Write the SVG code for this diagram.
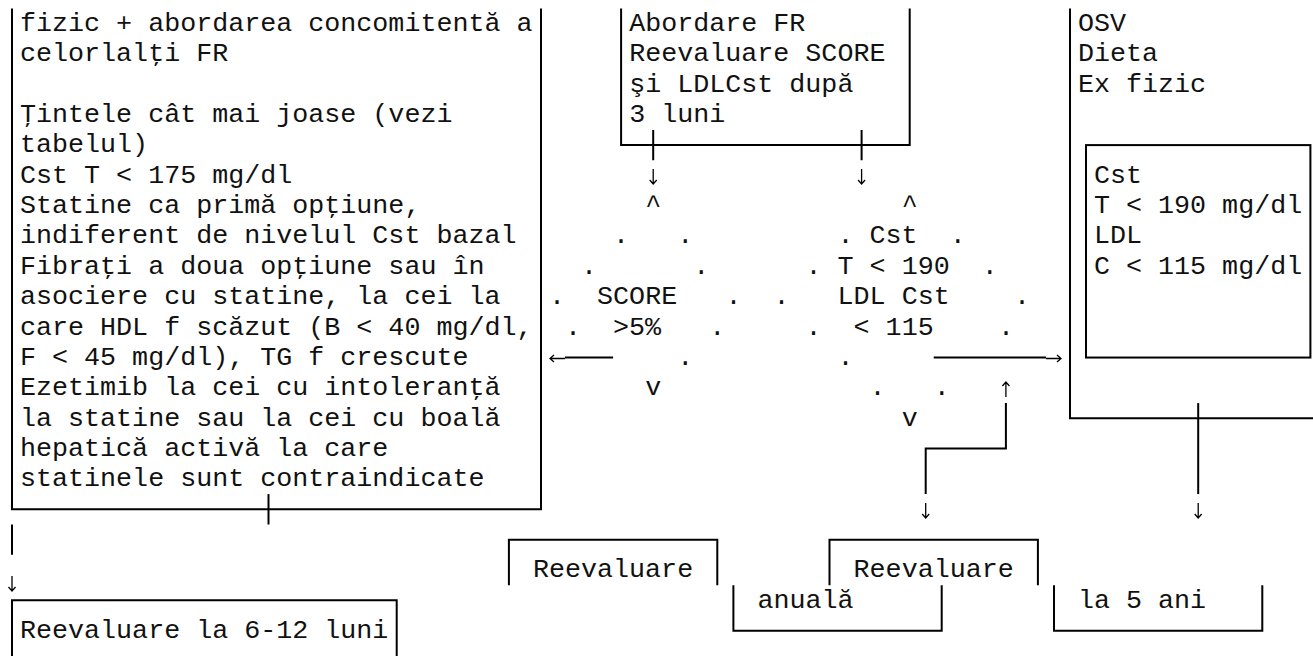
<svg xmlns="http://www.w3.org/2000/svg" width="1313" height="656" viewBox="0 0 1313 656">
  <style>
    .t { font-family: "Liberation Mono", "DejaVu Sans Mono", monospace; font-size: 26.7px; fill: #111; white-space: pre; }
    .ln { fill: none; stroke: #000; stroke-width: 2; }
    .ah { fill: none; stroke: #000; stroke-width: 1.3; }
  </style>
  <defs>
    <!-- small glyph-like arrows, origin at the tip -->
    <path id="arr-down" class="ah" d="M0,-15 V0 M-3.5,-4 L0,0 L3.5,-4"/>
    <path id="arr-up" class="ah" d="M0,15 V0 M-3.5,4 L0,0 L3.5,4"/>
    <path id="arr-left" class="ah" d="M15,0 H0 M4,-3.5 L0,0 L4,3.5"/>
    <path id="arr-right" class="ah" d="M-15,0 H0 M-4,-3.5 L0,0 L-4,3.5"/>
  </defs>
  <rect width="1313" height="656" fill="#fff"/>

  <!-- Treatment box (left) -->
  <g id="node-tratament">
    <path class="ln" d="M12,8.5 V509.3 H541 V8.5"/>
    <text class="t" x="20.03" y="31">fizic + abordarea concomitentă a</text>
    <text class="t" x="20.03" y="61.35">celorlalţi FR</text>
    <text class="t" x="20.03" y="122.05">Ţintele cât mai joase (vezi</text>
    <text class="t" x="20.03" y="152.4">tabelul)</text>
    <text class="t" x="20.03" y="182.75">Cst T &lt; 175 mg/dl</text>
    <text class="t" x="20.03" y="213.1">Statine ca primă opţiune,</text>
    <text class="t" x="20.03" y="243.45">indiferent de nivelul Cst bazal</text>
    <text class="t" x="20.03" y="273.8">Fibraţi a doua opţiune sau în</text>
    <text class="t" x="20.03" y="304.15">asociere cu statine, la cei la</text>
    <text class="t" x="20.03" y="334.5">care HDL f scăzut (B &lt; 40 mg/dl,</text>
    <text class="t" x="20.03" y="364.85">F &lt; 45 mg/dl), TG f crescute</text>
    <text class="t" x="20.03" y="395.2">Ezetimib la cei cu intoleranţă</text>
    <text class="t" x="20.03" y="425.55">la statine sau la cei cu boală</text>
    <text class="t" x="20.03" y="455.9">hepatică activă la care</text>
    <text class="t" x="20.03" y="486.25">statinele sunt contraindicate</text>
  </g>

  <!-- Risk factor management box (top middle) -->
  <g id="node-abordare">
    <path class="ln" d="M621.1,8.5 V145.1 H909.7 V8.5"/>
    <text class="t" x="629.2" y="31">Abordare FR</text>
    <text class="t" x="629.2" y="61.35">Reevaluare SCORE</text>
    <text class="t" x="629.2" y="91.7">şi LDLCst după</text>
    <text class="t" x="629.2" y="122.05">3 luni</text>
  </g>

  <!-- Lifestyle box (right) -->
  <g id="node-osv">
    <path class="ln" d="M1070,8.5 V418.25 H1313"/>
    <text class="t" x="1078" y="31">OSV</text>
    <text class="t" x="1078" y="61.35">Dieta</text>
    <text class="t" x="1078" y="91.7">Ex fizic</text>
  </g>

  <!-- Target values box -->
  <g id="node-tinte">
    <rect class="ln" x="1086" y="145.1" width="224.4" height="212.45"/>
    <text class="t" x="1094" y="182.75">Cst</text>
    <text class="t" x="1094" y="213.1">T &lt; 190 mg/dl</text>
    <text class="t" x="1094" y="243.45">LDL</text>
    <text class="t" x="1094" y="273.8">C &lt; 115 mg/dl</text>
  </g>

  <!-- Decision: SCORE > 5% -->
  <g id="node-decizie-score">
    <text class="t" x="645.2" y="213.1">^</text>
    <text class="t" x="613.1" y="243.45">.</text>
    <text class="t" x="677.3" y="243.45">.</text>
    <text class="t" x="581.1" y="273.8">.</text>
    <text class="t" x="693.3" y="273.8">.</text>
    <text class="t" x="549" y="304.15">.</text>
    <text class="t" x="597.1" y="304.15">SCORE</text>
    <text class="t" x="725.4" y="304.15">.</text>
    <text class="t" x="565.05" y="334.5">.</text>
    <text class="t" x="613.1" y="334.5">&gt;5%</text>
    <text class="t" x="709.3" y="334.5">.</text>
    <text class="t" x="677.3" y="364.85">.</text>
    <text class="t" x="645.2" y="395.2">v</text>
  </g>

  <!-- Decision: Cst T < 190, LDL Cst < 115 -->
  <g id="node-decizie-cst">
    <text class="t" x="901.7" y="213.1">^</text>
    <text class="t" x="837.6" y="243.45">.</text>
    <text class="t" x="869.6" y="243.45">Cst</text>
    <text class="t" x="949.8" y="243.45">.</text>
    <text class="t" x="805.5" y="273.8">.</text>
    <text class="t" x="837.6" y="273.8">T &lt; 190</text>
    <text class="t" x="981.8" y="273.8">.</text>
    <text class="t" x="773.4" y="304.15">.</text>
    <text class="t" x="837.6" y="304.15">LDL Cst</text>
    <text class="t" x="1013.9" y="304.15">.</text>
    <text class="t" x="805.5" y="334.5">.</text>
    <text class="t" x="853.6" y="334.5">&lt; 115</text>
    <text class="t" x="997.9" y="334.5">.</text>
    <text class="t" x="837.6" y="364.85">.</text>
    <text class="t" x="869.6" y="395.2">.</text>
    <text class="t" x="933.7" y="395.2">.</text>
    <text class="t" x="901.7" y="425.55">v</text>
  </g>

  <!-- Follow-up boxes (bottom) -->
  <g id="node-reevaluare-6-12">
    <path class="ln" d="M12,660 V600.35 H396.7 V660"/>
    <text class="t" x="20.03" y="638">Reevaluare la 6-12 luni</text>
  </g>

  <g id="node-reevaluare-anuala">
    <path class="ln" d="M508.9,585.2 V539.65 H717.3 V585.2"/>
    <text class="t" x="533" y="577.3">Reevaluare</text>
    <path class="ln" d="M733.4,585.2 V630.7 H941.7 V585.2"/>
    <text class="t" x="757.4" y="607.65">anuală</text>
  </g>

  <g id="node-reevaluare-5-ani">
    <path class="ln" d="M829.5,585.2 V539.65 H1037.9 V585.2"/>
    <text class="t" x="853.6" y="577.3">Reevaluare</text>
    <path class="ln" d="M1054,585.2 V630.7 H1262.3 V585.2"/>
    <text class="t" x="1078" y="607.65">la 5 ani</text>
  </g>

  <!-- Connectors -->
  <g id="connectors">
    <!-- from the risk factor box down to both decisions -->
    <path class="ln" d="M653.2,129.9 V160.3 M861.6,129.9 V160.3"/>
    <use href="#arr-down" x="653.2" y="184"/>
    <use href="#arr-down" x="861.6" y="184"/>
    <!-- SCORE > 5% to treatment box -->
    <path class="ln" d="M565,357.55 H613.1"/>
    <use href="#arr-left" x="550" y="358.5"/>
    <!-- targets reached to lifestyle box -->
    <path class="ln" d="M933.7,357.55 H1046"/>
    <use href="#arr-right" x="1061" y="358.5"/>
    <!-- annual follow-up loop -->
    <use href="#arr-up" x="1005.9" y="382"/>
    <path class="ln" d="M1005.9,403.1 V448.6 H925.7 V494.1"/>
    <use href="#arr-down" x="925.7" y="518"/>
    <!-- lifestyle box to 5-year follow-up -->
    <path class="ln" d="M1198.2,403.1 V494.1"/>
    <use href="#arr-down" x="1198.2" y="518"/>
    <!-- treatment box to 6-12 month follow-up -->
    <path class="ln" d="M268.5,494.1 V524.5"/>
    <path class="ln" d="M12,524.5 V554.8"/>
    <use href="#arr-down" x="12" y="591"/>
  </g>
</svg>
